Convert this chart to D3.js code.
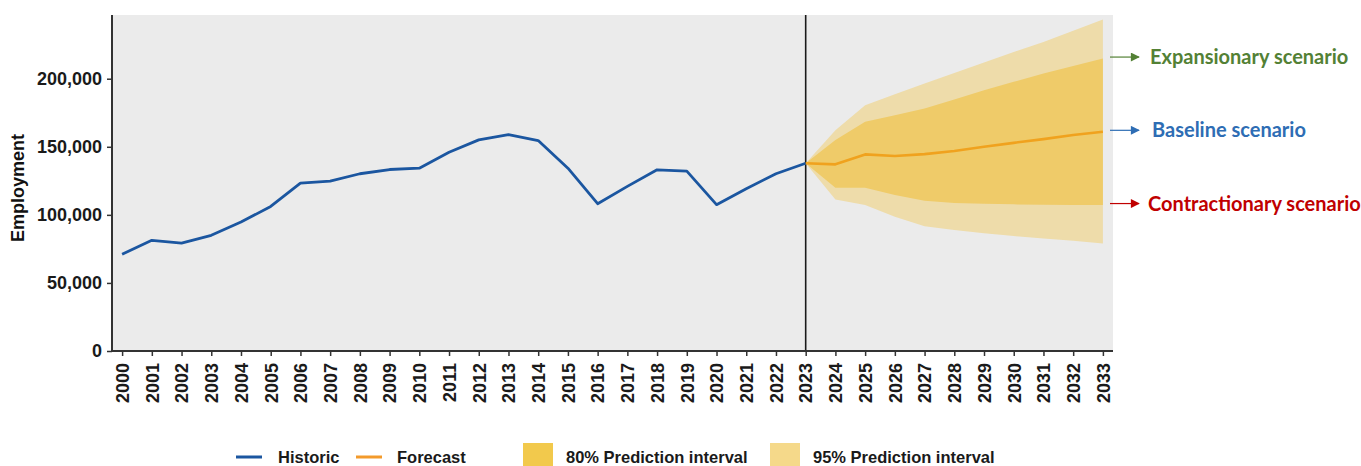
<!DOCTYPE html>
<html>
<head>
<meta charset="utf-8">
<script src="https://cdn.jsdelivr.net/npm/d3@7"></script>
<style>
  body { margin: 0; background: #fff; }
  svg text { font-family: "Liberation Sans", Arial, sans-serif; }
</style>
</head>
<body>
<div id="chart"></div>
<script>
// historic employment
var histYears = d3.range(2000, 2024);
var historic = [71000, 81300, 79300, 85000, 94700, 106200, 123300, 124800, 130200, 133300,
                134300, 146000, 155100, 159000, 154600, 134300, 108200, 120900, 133100, 132100,
                107500, 119200, 130200, 137900];

// forecast + prediction intervals (2023 = last observed)
var fcYears = d3.range(2023, 2034);
var forecast = [137900, 137100, 144400, 143200, 144600, 146900, 150000, 152900, 155600, 158600, 161000];
var lo80 = [137900, 119900, 119900, 114500, 110300, 108800, 108100, 107700, 107400, 107300, 107200];
var hi80 = [137900, 154900, 168300, 173200, 178100, 184800, 191600, 197700, 203800, 209300, 214800];
var lo95 = [137900, 111300, 107200, 98600, 91700, 88800, 86400, 84400, 82700, 81000, 79000];
var hi95 = [137900, 162200, 180600, 188500, 196400, 204200, 212000, 219600, 227000, 235300, 243500];

var yTicks = [0, 50000, 100000, 150000, 200000];
var scenarios = [
  {label: "Expansionary scenario", key: "hi", color: "#538135"},
  {label: "Baseline scenario", key: "mid", color: "#2E6DB4"},
  {label: "Contractionary scenario", key: "lo", color: "#C00000"}
];
var legendItems = ["Historic", "Forecast", "80% Prediction interval", "95% Prediction interval"];

var totalWidth = 1361, totalHeight = 466;
var margin = {top: 15, right: 248, bottom: 115, left: 112},
    width = totalWidth - margin.left - margin.right,
    height = totalHeight - margin.top - margin.bottom;

var svg = d3.select("#chart").append("svg")
    .attr("width", totalWidth)
    .attr("height", totalHeight);

var g = svg.append("g")
    .attr("transform", "translate(" + margin.left + "," + margin.top + ")");

var x = d3.scaleLinear().domain([1999.66, 2033.34]).range([0, width]);
var y = d3.scaleLinear().domain([0, 246800]).range([height, 0]);

// panel background
g.append("rect")
    .attr("width", width)
    .attr("height", height)
    .attr("fill", "#EBEBEB");

// bands
var fc = fcYears.map(function(yr, i) {
  return {yr: yr, f: forecast[i], l80: lo80[i], h80: hi80[i], l95: lo95[i], h95: hi95[i]};
});

g.append("path")
    .datum(fc)
    .attr("fill", "#EEDCAA")
    .attr("d", d3.area().x(function(d) { return x(d.yr); })
        .y0(function(d) { return y(d.l95); })
        .y1(function(d) { return y(d.h95); }));

g.append("path")
    .datum(fc)
    .attr("fill", "#EFCB69")
    .attr("d", d3.area().x(function(d) { return x(d.yr); })
        .y0(function(d) { return y(d.l80); })
        .y1(function(d) { return y(d.h80); }));

// vertical separator at 2023
g.append("line")
    .attr("x1", x(2023)).attr("x2", x(2023))
    .attr("y1", 0).attr("y2", height)
    .attr("stroke", "#1a1a1a")
    .attr("stroke-width", 1.6);

// lines
var line = d3.line().x(function(d) { return x(d[0]); }).y(function(d) { return y(d[1]); });

g.append("path")
    .datum(histYears.map(function(yr, i) { return [yr, historic[i]]; }))
    .attr("fill", "none")
    .attr("stroke", "#1B56A0")
    .attr("stroke-width", 2.8)
    .attr("stroke-linejoin", "round")
    .attr("d", line);

g.append("path")
    .datum(fcYears.map(function(yr, i) { return [yr, forecast[i]]; }))
    .attr("fill", "none")
    .attr("stroke", "#F0A21E")
    .attr("stroke-width", 2.6)
    .attr("stroke-linejoin", "round")
    .attr("d", line);

// axes
var yAxis = g.append("g")
    .call(d3.axisLeft(y).tickValues(yTicks).tickSize(5).tickPadding(5).tickFormat(d3.format(",")));
var xAxis = g.append("g")
    .attr("transform", "translate(0," + height + ")")
    .call(d3.axisBottom(x).tickValues(d3.range(2000, 2034)).tickSize(5).tickFormat(d3.format("d")));

[yAxis, xAxis].forEach(function(a) {
  a.select(".domain").attr("stroke", "#333").attr("stroke-width", 2);
  a.selectAll(".tick line").attr("stroke", "#333").attr("stroke-width", 1.5);
  a.selectAll("text").attr("fill", "#1a1a1a").style("font-weight", "bold").style("font-size", "18px");
});
// flat domain ends (no outer ticks)
yAxis.select(".domain").attr("d", "M0,0V" + height);
xAxis.select(".domain").attr("d", "M0,0H" + width);

xAxis.selectAll("text")
    .attr("transform", "rotate(-90)")
    .attr("x", -12)
    .attr("y", 0)
    .attr("dy", "0.35em")
    .style("text-anchor", "end");

// y title
svg.append("text")
    .attr("transform", "translate(24," + (margin.top + height / 2 + 5) + ") rotate(-90)")
    .style("text-anchor", "middle")
    .style("font-weight", "bold")
    .style("font-size", "18px")
    .attr("fill", "#111")
    .text("Employment");

// scenario arrows on the right
var last = fc[fc.length - 1];
var scenY = {hi: last.h80, mid: last.f, lo: last.l80};
svg.append("defs").selectAll("marker")
    .data(scenarios)
  .enter().append("marker")
    .attr("id", function(d) { return "arrow-" + d.key; })
    .attr("viewBox", "0 0 10 10")
    .attr("refX", 9).attr("refY", 5)
    .attr("markerWidth", 10).attr("markerHeight", 9)
    .attr("markerUnits", "userSpaceOnUse")
    .attr("orient", "auto")
  .append("path")
    .attr("d", "M0,0L10,5L0,10Z")
    .attr("fill", function(d) { return d.color; });

var scen = svg.selectAll(".scen")
    .data(scenarios)
  .enter().append("g")
    .attr("class", "scen")
    .attr("transform", function(d) {
      return "translate(" + (margin.left + width) + "," + (margin.top + y(scenY[d.key]) - 1.5) + ")";
    });

scen.append("line")
    .attr("x1", -3).attr("x2", 26)
    .attr("y1", 0).attr("y2", 0)
    .attr("stroke", function(d) { return d.color; })
    .attr("stroke-width", 1.2)
    .attr("marker-end", function(d) { return "url(#arrow-" + d.key + ")"; });

scen.append("text")
    .attr("x", function(d, i) { return i == 2 ? 35 : (i == 1 ? 39 : 37); })
    .attr("dy", "0.35em")
    .style("font-family", "Lato, 'Open Sans', sans-serif")
    .style("font-weight", "bold")
    .style("font-size", "20px")
    .attr("fill", function(d) { return d.color; })
    .text(function(d) { return d.label; });

// legend (sits at the very bottom edge)
var leg = svg.append("g").attr("transform", "translate(0,455)");
var legX = [236, 356, 523, 770];
var legColors = ["#1B56A0", "#F39A2B", "#F2C94C", "#F5D98A"];

legendItems.forEach(function(name, i) {
  if (i < 2) {
    leg.append("line")
      .attr("x1", legX[i]).attr("x2", legX[i] + 26)
      .attr("y1", 2).attr("y2", 2)
      .attr("stroke", legColors[i])
      .attr("stroke-width", 3);
    leg.append("text")
      .attr("x", legX[i] + (i == 0 ? 42 : 41))
      .attr("y", 2).attr("dy", "0.35em")
      .style("font-weight", "bold").style("font-size", "16.5px")
      .attr("fill", "#1a1a1a")
      .text(name);
  } else {
    leg.append("rect")
      .attr("x", legX[i]).attr("y", -12)
      .attr("width", 30).attr("height", 30)
      .attr("fill", legColors[i]);
    leg.append("text")
      .attr("x", legX[i] + 43)
      .attr("y", 2).attr("dy", "0.35em")
      .style("font-weight", "bold").style("font-size", "16.5px")
      .attr("fill", "#1a1a1a")
      .text(name);
  }
});
</script>
</body>
</html>
